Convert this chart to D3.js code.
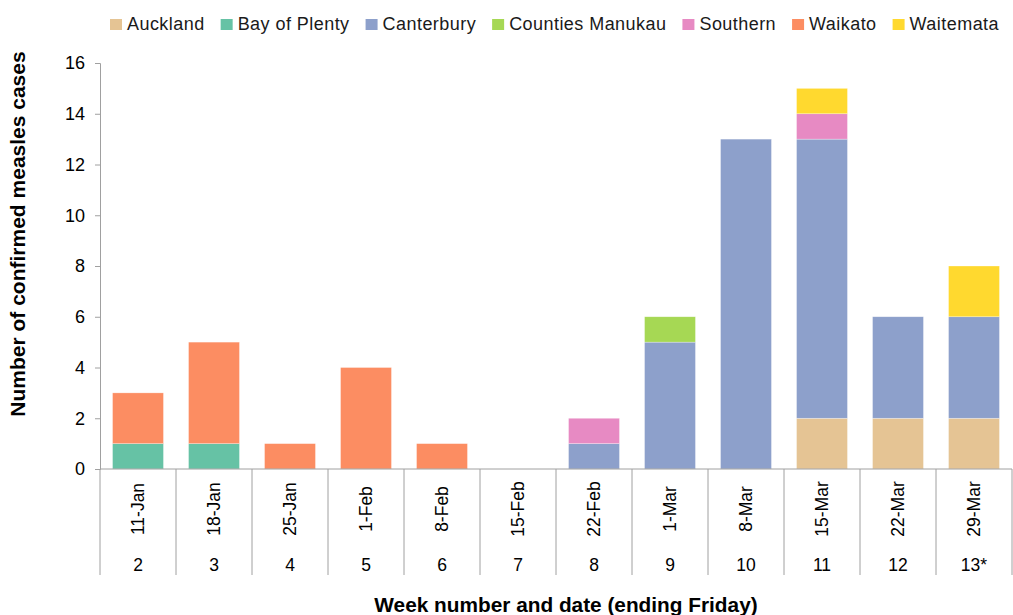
<!DOCTYPE html>
<meta charset="utf-8">
<style>
body { margin: 0; background: #fff; }
svg text { font-family: "Liberation Sans", Arial, sans-serif; fill: #000; }
.axis path, .axis line { stroke: #a0a0a0; }
.legend text { font-size: 18px; letter-spacing: 0.45px; fill: #1a1a1a; }
</style>
<svg width="1013" height="615"></svg>
<script src="https://d3js.org/d3.v7.min.js"></script>
<script>
// data
var dates = ["11-Jan","18-Jan","25-Jan","1-Feb","8-Feb","15-Feb","22-Feb","1-Mar","8-Mar","15-Mar","22-Mar","29-Mar"];
var weeks = ["2","3","4","5","6","7","8","9","10","11","12","13*"];
var regions = ["Auckland","Bay of Plenty","Canterbury","Counties Manukau","Southern","Waikato","Waitemata"];
var auckland        = [0,0,0,0,0,0,0,0,0,2,2,2];
var bayOfPlenty     = [1,1,0,0,0,0,0,0,0,0,0,0];
var canterbury      = [0,0,0,0,0,0,1,5,13,11,4,4];
var countiesManukau = [0,0,0,0,0,0,0,1,0,0,0,0];
var southern        = [0,0,0,0,0,0,1,0,0,1,0,0];
var waikato         = [2,4,1,4,1,0,0,0,0,0,0,0];
var waitemata       = [0,0,0,0,0,0,0,0,0,1,0,2];
var yTicks = [0,2,4,6,8,10,12,14,16];
var colors = ["#e5c494","#66c2a5","#8da0cb","#a6d854","#e78ac3","#fc8d62","#ffd92f"];

var series = [auckland, bayOfPlenty, canterbury, countiesManukau, southern, waikato, waitemata];
var rows = dates.map(function(d, i) {
  var r = {date: d, week: weeks[i]};
  regions.forEach(function(k, j) { r[k] = series[j][i]; });
  return r;
});

var svg = d3.select("svg");
var mLeft = 100, mRight = 1012, mTop = 63, mBottom = 469;

var x = d3.scaleBand().domain(dates).range([mLeft, mRight]).paddingInner(0.33).paddingOuter(0.165);
var y = d3.scaleLinear().domain([0, 16]).range([mBottom, mTop]);
var color = d3.scaleOrdinal().domain(regions).range(colors);

var stacked = d3.stack().keys(regions)(rows);

// bars
svg.append("g").selectAll("g")
  .data(stacked)
  .join("g")
    .attr("fill", function(s) { return color(s.key); })
  .selectAll("rect")
  .data(function(s) { return s.filter(function(d) { return d[1] > d[0]; }); })
  .join("rect")
    .attr("x", function(d) { return x(d.data.date); })
    .attr("width", x.bandwidth())
    .attr("y", function(d) { return y(d[1]); })
    .attr("height", function(d) { return y(d[0]) - y(d[1]); })
    .attr("stroke", "#fff")
    .attr("stroke-opacity", 0.5)
    .attr("stroke-width", 0.6);

// y axis
var yAxis = svg.append("g")
    .attr("class", "axis")
    .attr("transform", "translate(" + mLeft + ",0)")
    .call(d3.axisLeft(y).tickValues(yTicks).tickSize(5).tickPadding(10).tickSizeOuter(5));
yAxis.selectAll("text").style("font-size", "18px").style("font-family", "Liberation Sans, Arial, sans-serif").attr("fill", "#000");

// x axis line + category separators
var step = x.step(), gap = (step - x.bandwidth()) / 2;
var bounds = dates.map(function(d) { return x(d) - gap; }).concat([mRight]);
var xg = svg.append("g").attr("class", "axis");
xg.append("line").attr("x1", mLeft).attr("x2", mRight).attr("y1", mBottom).attr("y2", mBottom);
xg.selectAll("line.sep").data(bounds).join("line")
    .attr("class", "sep")
    .attr("x1", function(d) { return d; }).attr("x2", function(d) { return d; })
    .attr("y1", mBottom).attr("y2", 575);

svg.append("g").selectAll("text").data(rows).join("text")
    .attr("transform", function(d) { return "translate(" + (x(d.date) + x.bandwidth() / 2 + 6) + ",509) rotate(-90)"; })
    .attr("text-anchor", "middle")
    .style("font-size", "17.5px")
    .text(function(d) { return d.date; });

svg.append("g").selectAll("text").data(rows).join("text")
    .attr("x", function(d) { return x(d.date) + x.bandwidth() / 2; })
    .attr("y", 571)
    .attr("text-anchor", "middle")
    .style("font-size", "17.5px")
    .text(function(d) { return d.week; });

// axis titles
svg.append("text")
    .attr("transform", "translate(25,234) rotate(-90)")
    .attr("text-anchor", "middle")
    .style("font-size", "21px").style("font-weight", "bold")
    .text("Number of confirmed measles cases");
svg.append("text")
    .attr("x", 566).attr("y", 612)
    .attr("text-anchor", "middle")
    .style("font-size", "20.8px").style("font-weight", "bold")
    .text("Week number and date (ending Friday)");

// legend
var legend = svg.append("g").attr("class", "legend");
var lx = 110;
regions.forEach(function(k) {
  var g = legend.append("g").attr("transform", "translate(" + lx + ",0)");
  g.append("rect").attr("x", 0).attr("y", 19).attr("width", 12).attr("height", 11).attr("fill", color(k));
  var t = g.append("text").attr("x", 17).attr("y", 30).text(k);
  lx += 17 + t.node().getComputedTextLength() + 16;
});
</script>
